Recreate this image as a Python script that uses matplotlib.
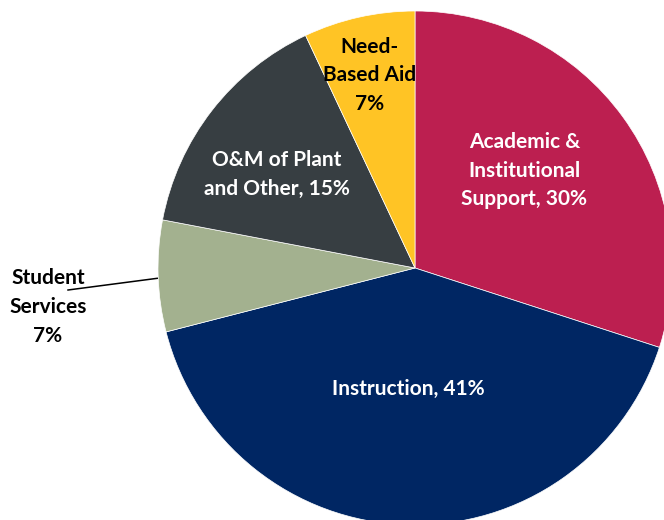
import numpy as np
import matplotlib.pyplot as plt

# slice data, clockwise from 12 o'clock
categories = ['Academic &\nInstitutional\nSupport, 30%', 'Instruction, 41%',
              'Student\nServices\n7%', 'O&M of Plant\nand Other, 15%',
              'Need-\nBased Aid\n7%']
shares = [30, 41, 7, 15, 7]
colors = ['#BC1F50', '#002663', '#A3B18F', '#373E42', '#FFC425']
text_colors = ['white', 'white', 'black', 'white', 'black']

plt.rcParams['font.family'] = ['Lato', 'DejaVu Sans']

fig = plt.figure(figsize=(6.64, 5.20), dpi=100)
ax = fig.add_axes([0, 0, 1, 1])

cx, cy, R = 415, 252, 257
wedges, _ = ax.pie(shares, colors=colors, startangle=90, counterclock=False,
                   center=(cx, cy), radius=R, frame=True,
                   wedgeprops=dict(linewidth=0.5, edgecolor='white'))
ax.set_xlim(0, 664)
ax.set_ylim(0, 520)
ax.set_aspect('equal')
ax.axis('off')

# label placement: (angle offset from wedge middle, distance as fraction of R)
label_pos = [(5.7, 0.57), (-1.3, 0.47), (None, None), (3.8, 0.65), (0.8, 0.77)]
fs = 15
ls = 1.55

for w, lab, tc, (da, dist) in zip(wedges, categories, text_colors, label_pos):
    mid = (w.theta1 + w.theta2) / 2
    if da is None:
        # outside label with leader line
        ex = cx + R * np.cos(np.radians(mid + 0.5))
        ey = cy + R * np.sin(np.radians(mid + 0.5))
        ax.plot([68, ex - 1], [230, ey], color='black', lw=1.1)
        ax.text(48, 213, lab, ha='center', va='center', fontsize=fs,
                fontweight='bold', color=tc, linespacing=ls)
        continue
    a = np.radians(mid + da)
    x = cx + dist * R * np.cos(a)
    y = cy + dist * R * np.sin(a)
    ax.text(x, y, lab, ha='center', va='center', fontsize=fs,
            fontweight='bold', color=tc, linespacing=ls)

fig.savefig('out.png', dpi=100)
